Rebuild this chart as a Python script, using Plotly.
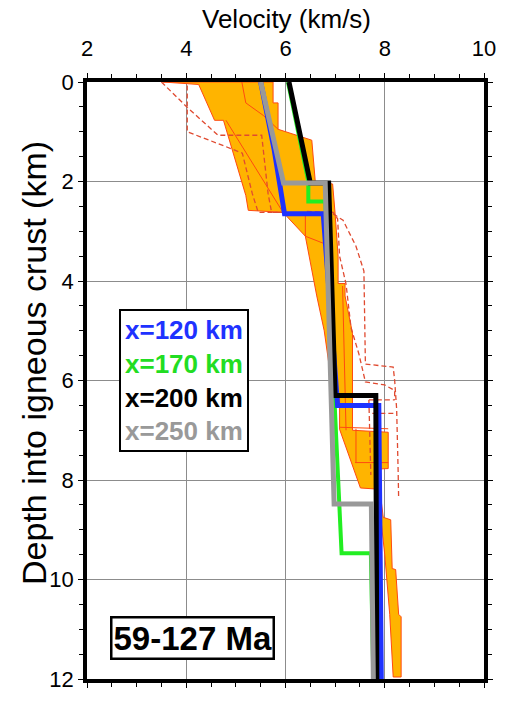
import plotly.graph_objects as go

# ---------------- data (velocity km/s, depth km) ----------------
env_v = [3.53, 4.25, 4.57, 4.75, 5.2, 5.25, 5.95, 6.4, 6.63, 6.78, 6.93, 6.99, 7.09, 7.09, 7.51, 7.8, 7.88, 8.0, 8.1, 8.17,
         8.33, 8.33, 8.28, 8.22, 8.15, 8.12, 7.97, 7.9, 7.85, 8.07, 8.07, 7.35, 7.35, 7.2, 7.2, 7.06, 7.06, 7.0, 6.95, 6.6,
         6.53, 5.85, 5.85, 5.75, 5.75, 3.53]
env_d = [0.0, 0.05, 0.77, 0.77, 2.28, 2.58, 2.62, 3.1, 4.3, 5.0, 6.06, 6.32, 6.35, 6.98, 8.16, 8.18, 8.4, 9.5, 10.7, 11.96,
         11.96, 10.75, 10.7, 9.8, 9.78, 8.8, 8.75, 8.16, 7.78, 7.77, 7.04, 7.0, 5.05, 4.3, 4.05, 4.05, 3.5, 2.65, 2.05, 2.0,
         1.17, 0.95, 0.42, 0.42, 0.0, 0.0]

solid_profiles = [
    ([4.8, 5.95], [0.77, 2.62]),
    ([5.12, 5.2, 5.55, 5.85], [0.0, 0.42, 0.67, 0.95]),
    ([6.4, 6.4, 6.76], [2.62, 3.1, 3.24]),
    ([7.15, 7.22], [4.1, 7.0]),
    ([7.1, 8.07], [6.94, 6.97]),
    ([7.42, 7.42], [6.97, 7.65]),
    ([7.4, 8.07], [7.65, 7.65]),
]

dashed_profiles = [
    ([3.5, 4.02, 4.64, 5.52, 5.65, 5.72, 5.95], [0.0, 0.51, 1.07, 1.07, 2.25, 2.62, 2.62]),
    ([4.02, 4.02, 4.8, 5.13, 5.33, 5.45, 5.92], [0.07, 1.0, 1.3, 1.43, 2.24, 2.62, 2.62]),
    ([6.96, 7.16, 7.42, 7.58, 7.61, 8.17, 8.2, 8.24, 8.27, 8.28], [2.65, 2.78, 3.3, 3.8, 5.67, 5.73, 6.0, 6.58, 7.83, 8.38]),
    ([6.43, 6.96, 7.05, 7.09, 7.22, 7.32, 7.48, 7.61, 8.0, 8.2, 8.2], [2.6, 2.62, 2.75, 3.5, 4.06, 4.94, 5.47, 6.03, 6.09, 6.2, 6.39]),
    ([7.68, 8.2], [6.39, 6.39]),
    ([7.68, 7.72], [6.39, 7.9]),
    ([7.75, 8.24], [6.66, 6.66]),
]

x120_v = [5.5, 5.77, 5.98, 6.76, 7.05, 7.88, 7.93]
x120_d = [0.0, 1.35, 2.65, 2.65, 6.5, 6.5, 12.0]
x170_v = [6.05, 6.46, 6.46, 6.8, 7.13, 7.72, 7.77]
x170_d = [0.0, 2.0, 2.4, 2.4, 9.47, 9.47, 12.0]
x200_v = [6.07, 6.5, 6.87, 7.0, 7.82, 7.84]
x200_d = [0.0, 2.03, 2.03, 6.3, 6.3, 12.0]
x250_v = [5.5, 5.96, 6.8, 6.98, 7.73, 7.77]
x250_d = [0.0, 2.03, 2.03, 8.48, 8.48, 12.0]

x_ticks = [2, 4, 6, 8, 10]
y_ticks = [0, 2, 4, 6, 8, 10, 12]

FONT = "Liberation Sans, Arial, Helvetica, sans-serif"
ORANGE = "#ffb400"
RED = "#ff4a10"
DASH = "#e04a30"

fig = go.Figure()

fig.add_trace(go.Scatter(x=env_v, y=env_d, mode="lines", fill="toself", fillcolor=ORANGE,
                         line=dict(color=RED, width=1), hoverinfo="skip"))
for v, d in solid_profiles:
    fig.add_trace(go.Scatter(x=v, y=d, mode="lines", line=dict(color=RED, width=1)))
for v, d in dashed_profiles:
    fig.add_trace(go.Scatter(x=v, y=d, mode="lines", line=dict(color=DASH, width=1.3, dash="5px,3px")))

fig.add_trace(go.Scatter(x=x170_v, y=x170_d, mode="lines", line=dict(color="#22ee22", width=4)))
fig.add_trace(go.Scatter(x=x120_v, y=x120_d, mode="lines", line=dict(color="#1e32ff", width=5)))
fig.add_trace(go.Scatter(x=x200_v, y=x200_d, mode="lines", line=dict(color="#000000", width=5)))
fig.add_trace(go.Scatter(x=x250_v, y=x250_d, mode="lines", line=dict(color="#999999", width=5)))

axis_common = dict(showline=True, linecolor="black", linewidth=3.5, mirror="allticks",
                   ticks="outside", ticklen=5, tickwidth=1.2, tickcolor="black",
                   showgrid=True, gridcolor="#8c8c8c", gridwidth=1, zeroline=False,
                   tickfont=dict(family=FONT, size=22, color="black"),
                   minor=dict(dtick=0.5, ticks="outside", ticklen=4, tickwidth=1.2, tickcolor="black", showgrid=False))

fig.update_xaxes(range=[2, 10], side="top", tickmode="array", tickvals=x_ticks,
                 ticktext=[str(t) for t in x_ticks], ticklabelstandoff=8, **axis_common)
fig.update_yaxes(range=[12, 0], tickmode="array", tickvals=y_ticks,
                 ticktext=[str(t) for t in y_ticks], **axis_common)

legend_text = ("<span style='color:#1e32ff'>x=120 km</span><br>"
               "<span style='color:#22dd22'>x=170 km</span><br>"
               "<span style='color:#000000'>x=200 km</span><br>"
               "<span style='color:#999999'>x=250 km</span>")

fig.update_layout(
    width=508, height=704,
    margin=dict(l=87, r=14, t=82, b=12),
    paper_bgcolor="white", plot_bgcolor="white",
    showlegend=False,
    annotations=[
        dict(text="Velocity (km/s)", xref="paper", yref="paper", x=0.5025, y=1.105,
             xanchor="center", yanchor="middle", showarrow=False,
             font=dict(family=FONT, size=26, color="black")),
        dict(text="Depth into igneous crust (km)", xref="paper", yref="paper", x=-0.135, y=0.53,
             xanchor="center", yanchor="middle", showarrow=False, textangle=-90,
             font=dict(family=FONT, size=34, color="black")),
        dict(text="<b>" + legend_text.replace("<br>", "</b><br><b>") + "</b>", xref="paper", yref="paper",
             x=0.244, y=0.50, xanchor="center", yanchor="middle", showarrow=False, align="left",
             bgcolor="white", bordercolor="black", borderwidth=2, borderpad=4,
             font=dict(family=FONT, size=26, color="black")),
        dict(text="<b>59-127 Ma</b>", xref="paper", yref="paper", x=0.265, y=0.069,
             xanchor="center", yanchor="middle", showarrow=False,
             bgcolor="white", bordercolor="black", borderwidth=2.5, borderpad=1,
             font=dict(family=FONT, size=33, color="black")),
    ],
)

fig.write_html("out.html")
